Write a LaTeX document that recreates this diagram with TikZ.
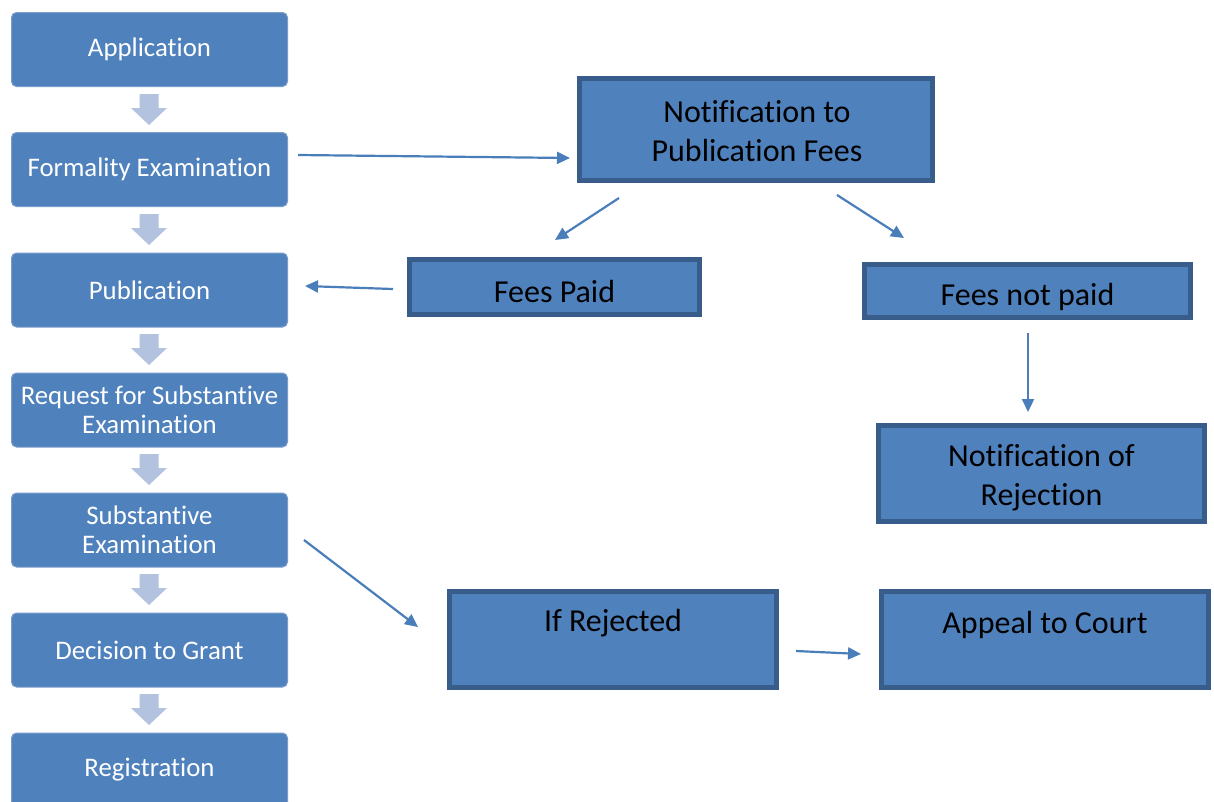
\documentclass[tikz,border=0pt]{standalone}
\usepackage{fontspec}
\setmainfont[Ligatures=NoCommon]{Carlito}
\usetikzlibrary{arrows.meta}
\definecolor{boxfill}{HTML}{4F81BD}
\definecolor{boxedge}{HTML}{385D8A}
\definecolor{lbedge}{HTML}{7A9CCB}
\definecolor{blockarr}{HTML}{B3C3DF}
\definecolor{connc}{HTML}{4A7EBB}
\begin{document}
\begin{tikzpicture}[x=1pt,y=-1pt,
 lbox/.style={draw=lbedge, line width=1pt, fill=boxfill, rounded corners=5pt, minimum width=276pt, minimum height=74pt, text=white, font=\fontsize{26.8}{29}\selectfont, align=center, inner sep=0pt},
 rbox/.style={draw=boxedge, line width=5pt, fill=boxfill, inner sep=0pt},
 rtext/.style={font=\fontsize{32}{39}\selectfont, align=center, inner sep=0pt},
 connector/.style={draw=connc, line width=2.2pt, -{Triangle[length=13pt,width=12pt]}},
 barr/.style={fill=blockarr}]
\clip (0,0) rectangle (1214,801);
\fill[white] (0,0) rectangle (1214,801);
% left column
\node[lbox] (app) at (149.5,49.5) {Application};
\node[lbox] (form) at (149.5,169.5) {Formality Examination};
\node[lbox] (pub) at (149.5,290) {Publication};
\node[lbox] (req) at (149.5,410) {Request for Substantive\\Examination};
\node[lbox] (sub) at (149.5,530) {Substantive\\Examination};
\node[lbox] (dec) at (149.5,650) {Decision to Grant};
\node[lbox] (reg) at (149.5,770) {Registration};
% block arrows
\foreach \y in {94,214,334,454,574,694}{
  \fill[barr] (139.5,\y) -- (158.5,\y) -- (158.5,\y+14) -- (167,\y+14) -- (149,\y+31) -- (131,\y+14) -- (139.5,\y+14) -- cycle;
}
% right boxes
\node[rbox, minimum width=353pt, minimum height=102pt] (notif) at (756,129.5) {};
\node[rtext] (notift) at (757,131) {Notification to\\Publication Fees};
\node[rbox, minimum width=290pt, minimum height=55pt] (paid) at (554.5,287) {};
\node[rtext] (paidt) at (554.5,291) {Fees Paid};
\node[rbox, minimum width=326pt, minimum height=53pt] (notpaid) at (1027.5,291) {};
\node[rtext] (notpaidt) at (1027.5,297) {Fees not paid};
\node[rbox, minimum width=326pt, minimum height=96pt] (rej) at (1041.5,473.5) {};
\node[rtext] (rejt) at (1041.5,478) {Notification of\\Rejection};
\node[rbox, minimum width=327pt, minimum height=96pt] (ifrej) at (613,639.5) {};
\node[rtext] (ifrejt) at (613,623) {If Rejected};
\node[rbox, minimum width=327pt, minimum height=96pt] (appeal) at (1045,639.5) {};
\node[rtext] (appealt) at (1045,625) {Appeal to Court};
% connector end points
\coordinate (c1s) at (298,155);  \coordinate (c1e) at (570,158);
\coordinate (c2s) at (619,198);  \coordinate (c2e) at (555,240);
\coordinate (c3s) at (837,195);  \coordinate (c3e) at (904,238);
\coordinate (c4s) at (393,289);  \coordinate (c4e) at (305,286);
\coordinate (c5s) at (1028,333); \coordinate (c5e) at (1028,412);
\coordinate (c6s) at (304,540);  \coordinate (c6e) at (418,627);
\coordinate (c7s) at (796,651);  \coordinate (c7e) at (861,654);
\draw[connector] (c1s) -- (c1e);
\draw[connector] (c2s) -- (c2e);
\draw[connector] (c3s) -- (c3e);
\draw[connector] (c4s) -- (c4e);
\draw[connector] (c5s) -- (c5e);
\draw[connector] (c6s) -- (c6e);
\draw[connector] (c7s) -- (c7e);
\end{tikzpicture}
\end{document}
